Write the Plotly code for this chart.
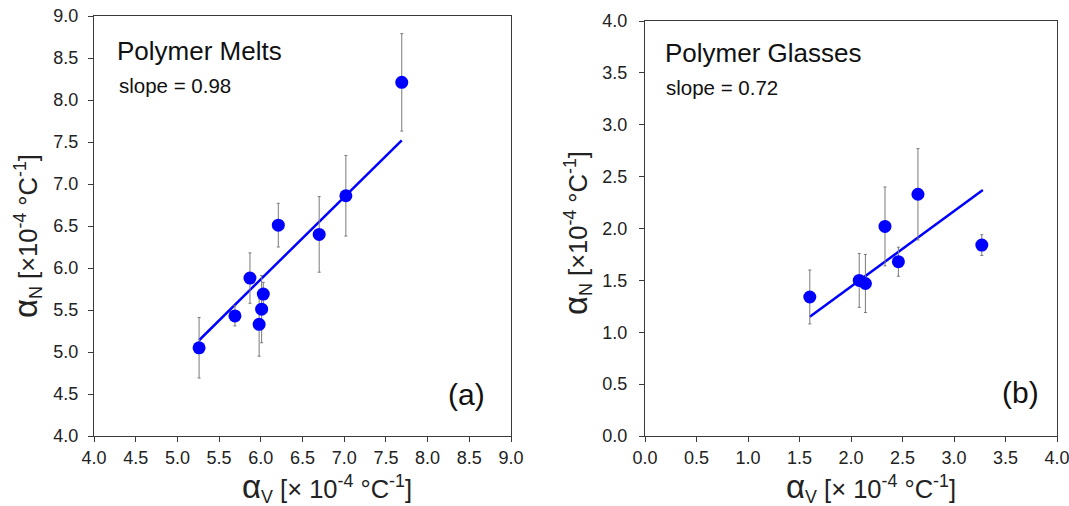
import plotly.graph_objects as go

# ---- data ----
melts_x = [5.26, 5.69, 5.87, 5.98, 6.01, 6.03, 6.21, 6.70, 7.02, 7.69]
melts_y = [5.05, 5.43, 5.88, 5.33, 5.51, 5.69, 6.51, 6.40, 6.86, 8.21]
melts_err = [0.36, 0.12, 0.30, 0.38, 0.40, 0.14, 0.26, 0.45, 0.48, 0.58]
melts_fit_x = [5.26, 7.69]
melts_fit_y = [5.14, 7.52]

glasses_x = [1.60, 2.08, 2.14, 2.33, 2.46, 2.65, 3.27]
glasses_y = [1.34, 1.50, 1.47, 2.02, 1.68, 2.33, 1.84]
glasses_err = [0.26, 0.26, 0.28, 0.38, 0.14, 0.44, 0.10]
glasses_fit_x = [1.60, 3.28]
glasses_fit_y = [1.15, 2.37]

melts_ticks = [4.0, 4.5, 5.0, 5.5, 6.0, 6.5, 7.0, 7.5, 8.0, 8.5, 9.0]
glasses_ticks = [0.0, 0.5, 1.0, 1.5, 2.0, 2.5, 3.0, 3.5, 4.0]

FONT = "Arial, Liberation Sans, sans-serif"
BLUE = "#0000ff"
AXC = "#3a3a3a"

fig = go.Figure()

def add_panel(xs, ys, errs, fx, fy, xa, ya):
    fig.add_trace(go.Scatter(
        x=fx, y=fy, mode="lines", line=dict(color=BLUE, width=2.5),
        xaxis=xa, yaxis=ya, showlegend=False, hoverinfo="skip"))
    fig.add_trace(go.Scatter(
        x=xs, y=ys, mode="markers",
        marker=dict(color=BLUE, size=13, line=dict(width=0)),
        error_y=dict(type="data", array=errs, visible=True,
                     color="#7a7a7a", thickness=1, width=1.5),
        xaxis=xa, yaxis=ya, showlegend=False))

add_panel(melts_x, melts_y, melts_err, melts_fit_x, melts_fit_y, "x", "y")
add_panel(glasses_x, glasses_y, glasses_err, glasses_fit_x, glasses_fit_y, "x2", "y2")

xtitle = ('<span style="font-size:33px">α</span><sub>V</sub> '
          '[× 10<sup>-4</sup> °C<sup>-1</sup>]')
ytitle = ('<span style="font-size:33px">α</span><sub>N</sub> '
          '[×10<sup>-4</sup> °C<sup>-1</sup>]')

tickfont = dict(family=FONT, size=18, color="#222222")

def main_axis(dom, rng, tv, anchor, lstand):
    return dict(
        domain=dom, range=rng, tickvals=tv,
        ticktext=[f"{v:.1f}" for v in tv],
        showline=True, linecolor=AXC, linewidth=1.3, mirror=True,
        ticks="outside", ticklen=5, tickwidth=1.3, tickcolor=AXC,
        showgrid=False, zeroline=False, anchor=anchor, automargin=False,
        tickfont=tickfont, ticklabelstandoff=lstand,
        ticklabeloverflow="allow",
    )

def inner_axis(dom, rng, tv, overlay, anchor):
    return dict(
        domain=dom, range=rng, tickvals=tv, overlaying=overlay,
        showline=False, ticks="inside", ticklen=5, tickwidth=1.3,
        tickcolor=AXC, showticklabels=False, showgrid=False,
        zeroline=False, anchor=anchor, automargin=False,
    )

xd1 = [94 / 1069, 511 / 1069]
yd1 = [70 / 506, 490 / 506]
xd2 = [645 / 1069, 1057 / 1069]
yd2 = [70 / 506, 485 / 506]

fig.update_layout(
    width=1069, height=506,
    margin=dict(l=0, r=0, t=0, b=0),
    paper_bgcolor="white", plot_bgcolor="white",
    font=dict(family=FONT, color="#222222"),
    xaxis=main_axis(xd1, [4, 9], melts_ticks, "y", 0),
    yaxis=main_axis(yd1, [4, 9], melts_ticks, "x", 6),
    xaxis2=main_axis(xd2, [0, 4], glasses_ticks, "y2", 0),
    yaxis2=main_axis(yd2, [0, 4], glasses_ticks, "x2", 8),
    xaxis3=inner_axis(xd1, [4, 9], melts_ticks, "x", "y"),
    yaxis3=inner_axis(yd1, [4, 9], melts_ticks, "y", "x"),
    xaxis4=inner_axis(xd2, [0, 4], glasses_ticks, "x2", "y2"),
    yaxis4=inner_axis(yd2, [0, 4], glasses_ticks, "y2", "x2"),
)

# (text, x px, y px, font size, xanchor, angle)
ann = [
    ("Polymer Melts", 115, 51, 26, "left", 0),
    ("slope = 0.98", 117, 85, 20.5, "left", 0),
    ("(a)", 466, 394, 30, "center", 0),
    ("Polymer Glasses", 663, 53, 26, "left", 0),
    ("slope = 0.72", 664, 87, 20.5, "left", 0),
    ("(b)", 1020, 392, 30, "center", 0),
    (xtitle, 327, 487, 25.5, "center", 0),
    (xtitle, 871, 487, 25.5, "center", 0),
    (ytitle, 26, 236, 25.5, "center", -90),
    (ytitle, 576, 233, 25.5, "center", -90),
]
for text, px, py, size, xa, ang in ann:
    fig.add_annotation(
        text=text, x=px / 1069, y=1 - py / 506, xref="paper", yref="paper",
        xanchor=xa, yanchor="middle", showarrow=False, textangle=ang,
        font=dict(family=FONT, size=size,
                  color="#111111" if size != 25.5 else "#222222"))

fig.write_html("out.html",
               config={"displayModeBar": False},
               post_script="document.body.style.margin='0px';"
                           "document.body.style.overflow='hidden';")
